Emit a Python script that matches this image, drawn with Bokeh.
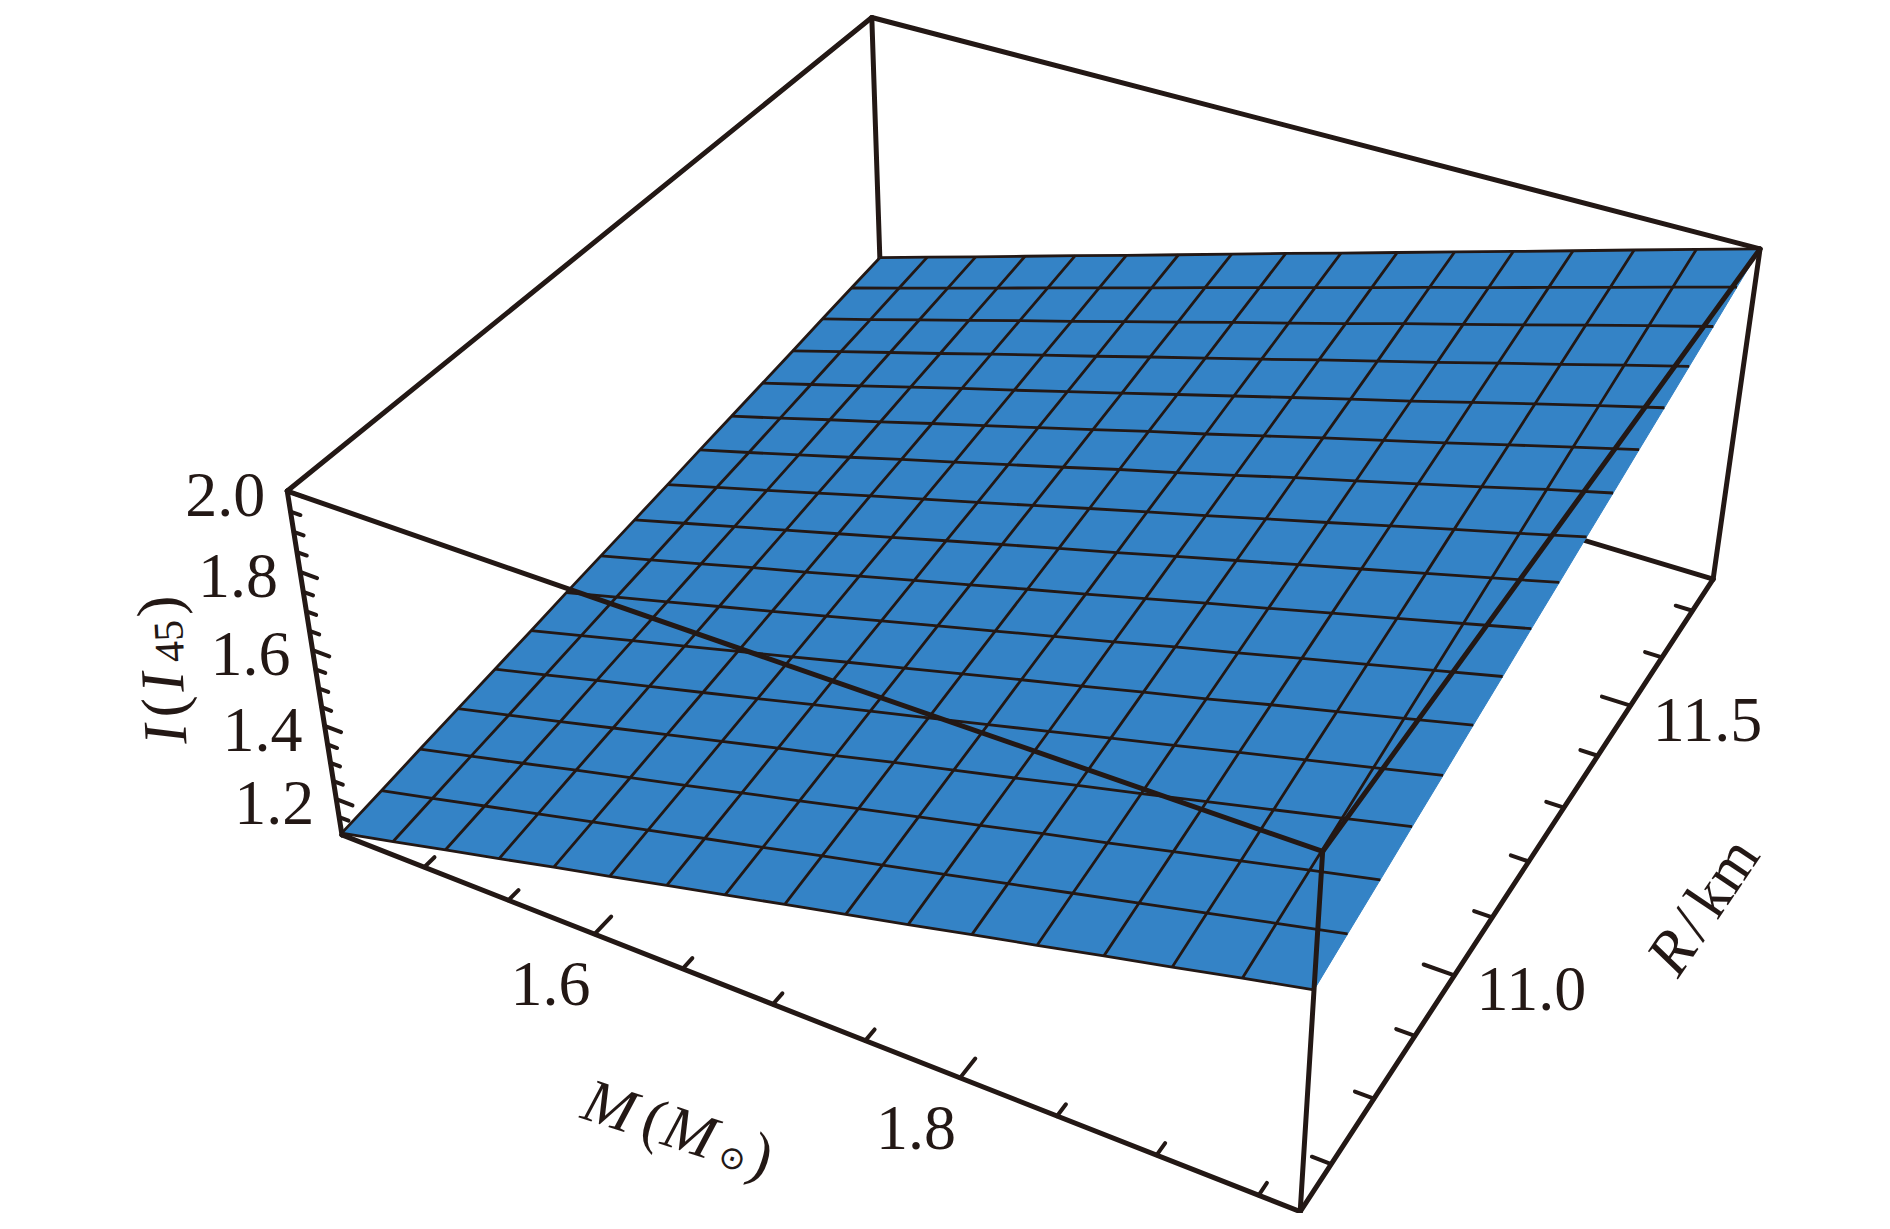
import math
import numpy as np
from bokeh.plotting import figure
from bokeh.models import Range1d
from bokeh.core.properties import value
from bokeh.embed import file_html
from bokeh.resources import INLINE

# ---------- data ----------
M_VALUES = [1.45, 1.4825, 1.515, 1.5475, 1.58, 1.6125, 1.645, 1.6775, 1.71,
            1.7425, 1.775, 1.8075, 1.84, 1.8725, 1.905, 1.9375, 1.97]
R_VALUES = [10.63, 10.70125, 10.7725, 10.84375, 10.915, 10.98625, 11.0575, 11.12875, 11.2,
            11.27125, 11.3425, 11.41375, 11.485, 11.55625, 11.6275, 11.69875, 11.77]
# I along R, one list per mesh value of M
I_M00 = [1.105, 1.118, 1.132, 1.145, 1.158, 1.171, 1.185, 1.198, 1.211, 1.224, 1.238, 1.251, 1.264, 1.277, 1.291, 1.304, 1.317]
I_M01 = [1.140, 1.154, 1.168, 1.181, 1.195, 1.209, 1.223, 1.236, 1.250, 1.264, 1.277, 1.291, 1.305, 1.319, 1.332, 1.346, 1.360]
I_M02 = [1.176, 1.190, 1.204, 1.218, 1.233, 1.247, 1.261, 1.275, 1.289, 1.303, 1.317, 1.332, 1.346, 1.360, 1.374, 1.388, 1.402]
I_M03 = [1.211, 1.226, 1.241, 1.255, 1.270, 1.284, 1.299, 1.314, 1.328, 1.343, 1.357, 1.372, 1.387, 1.401, 1.416, 1.430, 1.445]
I_M04 = [1.247, 1.262, 1.277, 1.292, 1.307, 1.322, 1.337, 1.352, 1.367, 1.383, 1.398, 1.413, 1.428, 1.443, 1.458, 1.473, 1.488]
I_M05 = [1.282, 1.298, 1.313, 1.329, 1.344, 1.360, 1.375, 1.391, 1.406, 1.422, 1.437, 1.453, 1.468, 1.484, 1.499, 1.515, 1.530]
I_M06 = [1.318, 1.334, 1.350, 1.366, 1.382, 1.398, 1.414, 1.430, 1.446, 1.461, 1.477, 1.493, 1.509, 1.525, 1.541, 1.557, 1.573]
I_M07 = [1.353, 1.369, 1.386, 1.402, 1.419, 1.435, 1.452, 1.468, 1.485, 1.501, 1.517, 1.534, 1.550, 1.567, 1.583, 1.600, 1.616]
I_M08 = [1.389, 1.406, 1.423, 1.440, 1.456, 1.473, 1.490, 1.507, 1.524, 1.541, 1.558, 1.575, 1.591, 1.608, 1.625, 1.642, 1.659]
I_M09 = [1.424, 1.441, 1.459, 1.476, 1.493, 1.511, 1.528, 1.545, 1.562, 1.580, 1.597, 1.614, 1.632, 1.649, 1.666, 1.684, 1.701]
I_M10 = [1.459, 1.477, 1.495, 1.512, 1.530, 1.548, 1.566, 1.584, 1.602, 1.619, 1.637, 1.655, 1.673, 1.691, 1.708, 1.726, 1.744]
I_M11 = [1.495, 1.513, 1.532, 1.550, 1.568, 1.586, 1.605, 1.623, 1.641, 1.659, 1.678, 1.696, 1.714, 1.732, 1.751, 1.769, 1.787]
I_M12 = [1.530, 1.549, 1.567, 1.586, 1.605, 1.623, 1.642, 1.661, 1.680, 1.698, 1.717, 1.736, 1.754, 1.773, 1.792, 1.810, 1.829]
I_M13 = [1.566, 1.585, 1.604, 1.623, 1.643, 1.662, 1.681, 1.700, 1.719, 1.738, 1.757, 1.776, 1.796, 1.815, 1.834, 1.853, 1.872]
I_M14 = [1.601, 1.621, 1.640, 1.660, 1.680, 1.699, 1.719, 1.738, 1.758, 1.778, 1.797, 1.817, 1.837, 1.856, 1.876, 1.895, 1.915]
I_M15 = [1.637, 1.657, 1.677, 1.697, 1.717, 1.737, 1.757, 1.777, 1.797, 1.817, 1.838, 1.858, 1.878, 1.898, 1.918, 1.938, 1.958]
I_M16 = [1.672, 1.693, 1.713, 1.734, 1.754, 1.775, 1.795, 1.816, 1.836, 1.857, 1.877, 1.898, 1.918, 1.939, 1.959, 1.980, 2.000]
I_ROWS = [I_M00, I_M01, I_M02, I_M03, I_M04, I_M05, I_M06, I_M07, I_M08,
          I_M09, I_M10, I_M11, I_M12, I_M13, I_M14, I_M15, I_M16]

BOX_M = [1.45, 1.97]
BOX_R = [10.63, 11.77]
BOX_I = [1.10, 2.0]
M_TICKS = [1.50, 1.55, 1.60, 1.65, 1.70, 1.75, 1.80, 1.85, 1.90, 1.95]
R_TICKS = [10.7, 10.8, 10.9, 11.0, 11.1, 11.2, 11.3, 11.4, 11.5, 11.6, 11.7]
I_TICKS = [1.15, 1.20, 1.25, 1.30, 1.35, 1.40, 1.45, 1.50, 1.55, 1.60, 1.65, 1.70, 1.75,
           1.80, 1.85, 1.90, 1.95, 2.00]
M_MAJOR = [1.6, 1.8]
R_MAJOR = [11.0, 11.5]
I_MAJOR = [1.2, 1.4, 1.6, 1.8, 2.0]
M_LABELS = ["1.6", "1.8"]
R_LABELS = ["11.0", "11.5"]
I_LABELS = ["1.2", "1.4", "1.6", "1.8", "2.0"]

# ---------- camera: a projective map of the unit box onto the page ----------
CALIB = [((0, 0, 0), (341, 834)), ((1, 0, 0), (1301, 1211)), ((1, 1, 0), (1712, 579)),
         ((0, 0, 1), (287, 491)), ((1, 0, 1), (1321, 851)), ((0, 1, 1), (871.5, 17)),
         ((1, 1, 1), (1760, 248))]
A = []
for (u, v, w), (x, y) in CALIB:
    x, y = x / 1000, y / 1000
    A.append([u, v, w, 1, 0, 0, 0, 0, -x*u, -x*v, -x*w, -x])
    A.append([0, 0, 0, 0, u, v, w, 1, -y*u, -y*v, -y*w, -y])
CAM = np.linalg.svd(np.array(A))[2][-1].reshape(3, 4)


def proj(m, r, i):
    u = (np.asarray(m, float) - BOX_M[0]) / (BOX_M[1] - BOX_M[0])
    v = (np.asarray(r, float) - BOX_R[0]) / (BOX_R[1] - BOX_R[0])
    w = (np.asarray(i, float) - BOX_I[0]) / (BOX_I[1] - BOX_I[0])
    X = np.stack([u, v, w, np.ones_like(u)])
    H = CAM @ X
    return H[0] / H[2] * 1000, H[1] / H[2] * 1000


INK = "#231815"
BLUE = "#3483C6"
W, H_ = 1874, 1213
p = figure(width=W, height=H_, x_range=Range1d(0, W), y_range=Range1d(H_, 0),
           output_backend="svg", toolbar_location=None, min_border=0)
p.axis.visible = False
p.grid.visible = False
p.outline_line_color = None
p.background_fill_color = "white"
p.border_fill_color = "white"


def seg(a, b):
    xs, ys = proj([a[0], b[0]], [a[1], b[1]], [a[2], b[2]])
    return list(xs), list(ys)


def draw_segs(pairs, width):
    s = [seg(a, b) for a, b in pairs]
    p.multi_line([t[0] for t in s], [t[1] for t in s], line_color=INK, line_width=width,
                 line_cap="round", line_join="round")


m0, m1 = BOX_M
r0, r1 = BOX_R
i0, i1 = BOX_I

# back edges, behind the surface
draw_segs([((m0, r0, i1), (m0, r1, i1)), ((m0, r1, i1), (m1, r1, i1)),
           ((m0, r1, i1), (m0, r1, i0)), ((m0, r1, i0), (m1, r1, i0)),
           ((m0, r0, i0), (m0, r1, i0))], 5)

# surface
M = np.array(M_VALUES)
R = np.array(R_VALUES)
Z = np.array(I_ROWS)
cx, cy = [], []
for a in range(len(M) - 1):
    for b in range(len(R) - 1):
        xs, ys = proj([M[a], M[a + 1], M[a + 1], M[a]], [R[b], R[b], R[b + 1], R[b + 1]],
                      [Z[a, b], Z[a + 1, b], Z[a + 1, b + 1], Z[a, b + 1]])
        cx.append(list(xs))
        cy.append(list(ys))
p.patches(cx, cy, fill_color=BLUE, line_color=BLUE, line_width=1)

lx, ly = [], []
for a in range(len(M) - 1):
    xs, ys = proj(np.full(len(R), M[a]), R, Z[a, :])
    lx.append(list(xs))
    ly.append(list(ys))
for b in range(len(R)):
    xs, ys = proj(M, np.full(len(M), R[b]), Z[:, b])
    lx.append(list(xs))
    ly.append(list(ys))
p.multi_line(lx, ly, line_color=INK, line_width=2.8, line_join="round")

# front edges, over the surface
draw_segs([((m0, r0, i1), (m1, r0, i1)), ((m1, r0, i1), (m1, r1, i1)),
           ((m0, r0, i1), (m0, r0, i0)), ((m1, r0, i1), (m1, r0, i0)),
           ((m1, r1, i1), (m1, r1, i0)), ((m0, r0, i0), (m1, r0, i0)),
           ((m1, r0, i0), (m1, r1, i0))], 5)

# tick marks
def close(a, lst):
    return any(abs(a - b) < 1e-6 for b in lst)


ticks = []
for t in M_TICKS:
    ticks.append(((t, r0, i0), (t, r0 + (0.027 if close(t, M_MAJOR) else 0.016) * (r1 - r0), i0)))
for t in R_TICKS:
    ticks.append(((m1, t, i0), (m1 - (0.030 if close(t, R_MAJOR) else 0.018) * (m1 - m0), t, i0)))
for t in I_TICKS:
    ticks.append(((m0, r0, t), (m0 + (0.019 if close(t, I_MAJOR) else 0.011) * (m1 - m0), r0, t)))
draw_segs(ticks, 4)

# tick labels
SERIF = value("Liberation Serif")
TICK_SIZE = "64px"


def tick_labels(xs, ys, texts, dx, dy):
    p.text(list(np.array(xs) + dx), list(np.array(ys) + dy), text=texts, text_font=SERIF,
           text_font_size=TICK_SIZE, text_color=INK, text_align="center", text_baseline="middle")


x_, y_ = proj(M_MAJOR, [r0] * 2, [i0] * 2)
tick_labels(x_, y_, M_LABELS, -44, 50)
x_, y_ = proj([m1] * 2, R_MAJOR, [i0] * 2)
tick_labels(x_, y_, R_LABELS, 77, 14)
x_, y_ = proj([m0] * 5, [r0] * 5, I_MAJOR)
tick_labels(x_, y_, I_LABELS, -62, 4)


# axis titles built from pieces along a rotated baseline
def title(origin, deg, pieces):
    th = math.radians(deg)
    c, s = math.cos(th), math.sin(th)
    for txt, style, size, adv, dy, font in pieces:
        p.text([origin[0] + adv * c + dy * s], [origin[1] - adv * s + dy * c], text=[txt],
               text_font=value(font), text_font_style=style, text_font_size=f"{size}px",
               text_color=INK, text_align="left", text_baseline="alphabetic", angle=th)


LS = "Liberation Serif"
title((165, 744), 93, [("I", "italic", 62, 0, 0, LS), ("(", "normal", 62, 27, 0, LS),
                       ("I", "italic", 62, 52, 0, LS), ("45", "normal", 42, 82, 9, LS),
                       (")", "normal", 62, 128, 0, LS)])
title((585, 1097), -18, [("M", "italic", 62, 0, 0, LS), ("(", "normal", 62, 62, 0, LS),
                         ("M", "italic", 62, 84, 0, LS), ("\u2299", "normal", 32, 145, 12, "DejaVu Sans"),
                         (")", "normal", 62, 175, 0, LS)])
title((1660, 967), 56, [("R", "italic", 62, 0, 0, LS), ("/", "normal", 62, 44, 0, LS),
                        ("km", "normal", 62, 70, 0, LS)])

open("out.html", "w").write(file_html(p, INLINE))
